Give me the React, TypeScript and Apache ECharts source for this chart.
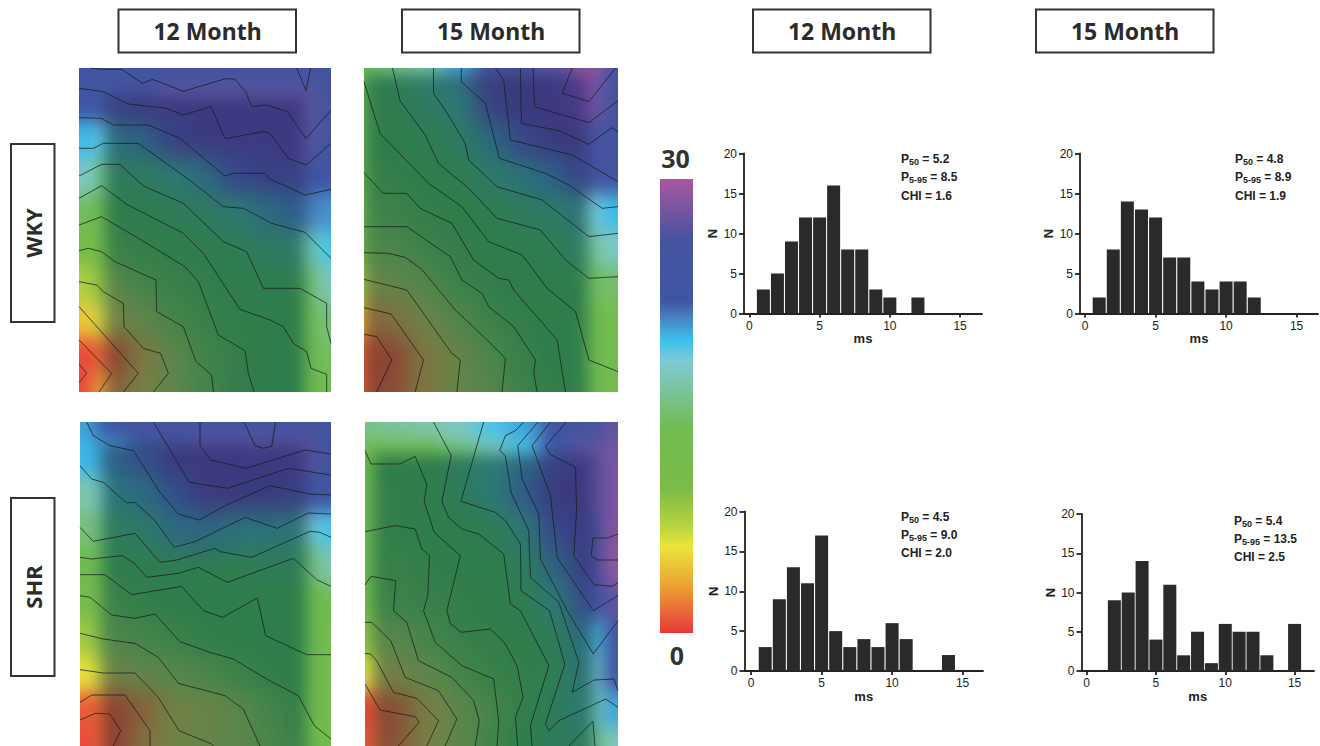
import React, { useEffect, useRef } from "react";
import * as echarts from "echarts";

// ---------- colour scale (value, colour) ----------
const scaleStops: [number, string][] = [
  [0, "#e8383a"], [3, "#ec9f33"], [5.7, "#ebe53c"], [7.2, "#b5d140"], [9.6, "#7bbb48"],
  [13.5, "#70bb50"], [16.2, "#7cc4a0"], [18, "#7ccad5"], [19.35, "#3bc0ee"], [21, "#4a7cbc"],
  [21.9, "#3f56a4"], [26, "#45549f"], [30, "#a9569f"],
];
// the same values as they look in the darker centre of each map
const innerStops: [number, string][] = [
  [0, "#95302f"], [2, "#8a4032"], [4, "#87603a"], [6, "#7a8045"], [9, "#5c864a"], [11, "#45844a"],
  [13.5, "#2f7d4a"], [15.5, "#2f7a60"], [17, "#2d7a75"], [19, "#2b6a80"], [21, "#2f5a8c"],
  [23, "#37468a"], [25, "#3a3a7c"], [27, "#3e3a82"], [30, "#6f3a98"],
];

// ---------- maps: values read on a 9 x 10 lattice ----------
const heat12Wky = [
  [23, 25, 25, 25, 25, 25, 25, 25.5, 25.5],
  [22, 24, 26, 27, 27, 27, 27, 27, 25],
  [19.5, 18.5, 20, 24, 26, 27, 27, 27, 24.5],
  [17.5, 15.5, 15, 17, 19, 23, 24, 24, 23],
  [14, 13.5, 14, 14.5, 15.5, 17, 19, 21, 20.5],
  [11, 12, 13, 13.5, 14, 14.5, 15.5, 16.5, 19],
  [7.5, 9, 11, 12.5, 13, 13.5, 14, 14, 17],
  [4.5, 6.5, 8.5, 11, 12.5, 13, 13.5, 13.5, 15],
  [0.5, 1.5, 5.5, 9, 11.5, 13, 13.5, 13.5, 14],
  [0.5, 4, 6, 9, 11, 13, 13.5, 13.5, 13.5],
];
const heat15Wky = [
  [13.5, 15.5, 16.5, 20, 25, 26, 27, 29, 26],
  [13, 14, 15.5, 17, 24, 25, 26, 28, 26],
  [13, 13.5, 14, 15.5, 19, 23, 25, 26, 25],
  [12.5, 13, 13.5, 14, 16, 18, 20.5, 24, 25],
  [11.5, 12, 13, 13.5, 14, 15, 16, 18, 19.5],
  [10, 10.5, 12, 13, 13.5, 14, 14.5, 16, 17.5],
  [7.5, 8.5, 10, 12, 13, 13.5, 13.5, 14, 14.5],
  [4, 5, 7.5, 10, 12, 13, 13.5, 13.5, 12],
  [1.5, 2.5, 5.5, 8, 10.5, 12.5, 13.5, 13.5, 12.5],
  [1.5, 3, 5.5, 8, 9.5, 12, 13, 13.5, 12],
];
const heat12Shr = [
  [20, 22, 25, 25, 25, 25, 25, 25, 25],
  [19.5, 20, 22, 25, 27, 27, 27, 27, 25],
  [16.5, 17.5, 19, 22, 26, 25, 25, 24, 22],
  [15, 15, 16, 19, 19.5, 18, 18, 17.5, 19],
  [13, 13.5, 14, 14.5, 14, 14, 15, 14.5, 16.5],
  [11, 12, 13, 13.5, 13.5, 13.5, 13.5, 13.5, 13.5],
  [8, 10, 11, 12, 13, 13.5, 13.5, 13.5, 13],
  [5.5, 7, 8.5, 9.5, 10.5, 12, 13, 13.5, 12.5],
  [1, 1.5, 4, 7, 7.5, 9, 11, 13, 12],
  [0.5, 1.5, 5, 7, 8, 9, 10.5, 12.5, 12],
];
const heat15Shr = [
  [15.5, 16, 16.5, 17.5, 19, 20, 23, 26, 27],
  [13, 13.5, 13.5, 15, 17, 19, 24, 27, 28],
  [13, 13, 13.5, 15, 17, 21, 25, 27, 28],
  [13, 13, 13.5, 13.5, 14.5, 17, 23, 26, 28.5],
  [13, 12.5, 13, 13.5, 13.5, 15, 20, 26, 29],
  [12, 12, 12.5, 13, 13.5, 14, 17, 23, 27],
  [9, 9.5, 11, 12.5, 13, 13.5, 15, 19, 24.5],
  [6, 7, 9, 11, 12.5, 13, 14, 18, 22],
  [0.5, 3, 6, 9, 11, 13, 15, 17, 20],
  [1, 3.5, 6.5, 9, 11.5, 13.5, 15, 15.5, 17],
];

// ---------- isochrone lines, in map units ----------
const contours12Wky = [
  [[60,24],[95,28],[155,28],[218,70],[248,58],[340,94],[467,56],[495,58],[527,95],[545,140],[590,135],[652,155],[708,236],[783,150]],
  [[27,85],[100,95],[175,132],[290,145],[340,165],[423,140],[465,236],[580,215],[600,220],[655,295],[708,315],[783,250]],
  [[680,24],[708,92],[722,24]],
  [[27,173],[95,175],[130,195],[235,195],[330,235],[465,348],[490,340],[585,340],[600,358],[640,375],[705,405],[783,388]],
  [[27,265],[70,265],[100,250],[205,250],[365,365],[460,440],[520,445],[605,490],[705,517],[783,595]],
  [[27,348],[95,313],[150,313],[220,378],[340,430],[460,545],[530,575],[580,685],[690,685],[770,730],[770,800],[783,850]],
  [[27,415],[95,377],[170,433],[340,520],[400,580],[510,748],[600,780],[640,800],[670,850],[710,875],[723,925],[770,943],[770,996]],
  [[27,495],[95,470],[205,535],[345,620],[385,665],[445,825],[525,872],[535,940],[552,996]],
  [[27,572],[55,565],[95,575],[135,605],[258,660],[260,755],[340,800],[378,905],[425,945],[430,996]],
  [[27,665],[80,675],[100,695],[160,730],[162,800],[220,865],[272,880],[295,940],[250,996]],
  [[27,740],[205,940],[160,996]],
  [[27,840],[125,940],[87,996]],
  [[27,912],[50,940],[27,968]],
];
const contours15Wky = [
  [[27,65],[75,220],[220,370],[320,440],[400,545],[500,585],[575,685],[660,755],[700,900],[787,935]],
  [[112,24],[135,122],[210,225],[250,310],[340,385],[425,475],[555,510],[630,600],[700,655],[787,650]],
  [[235,24],[235,100],[270,150],[330,250],[340,300],[425,380],[560,420],[700,530],[787,520]],
  [[318,24],[318,65],[390,130],[432,295],[570,340],[640,375],[740,445],[787,440]],
  [[420,24],[445,60],[465,240],[650,285],[787,365]],
  [[495,24],[498,190],[610,212],[700,253],[768,203],[787,215]],
  [[533,24],[537,140],[700,188],[787,122]],
  [[650,24],[620,100],[700,125],[780,24]],
  [[27,338],[85,400],[155,400],[195,445],[290,490],[355,600],[430,655],[460,660],[475,690],[605,840],[620,935],[630,996]],
  [[27,500],[155,500],[285,590],[320,660],[380,700],[400,740],[475,800],[540,900],[535,940],[545,996]],
  [[27,578],[100,580],[150,592],[200,628],[300,750],[385,830],[450,895],[440,996]],
  [[27,658],[155,690],[290,880],[315,900],[305,996]],
  [[27,743],[108,762],[205,900],[180,996]],
  [[27,823],[65,830],[110,900],[65,996]],
];
const contours12Shr = [
  [[50,24],[70,65],[120,95],[190,110],[270,235],[325,300],[388,318],[465,275],[600,215],[720,240],[783,243]],
  [[30,155],[65,195],[100,205],[170,267],[195,265],[255,320],[312,400],[375,383],[525,310],[622,343],[715,297],[783,300]],
  [[250,24],[358,205],[473,223],[655,163],[783,183]],
  [[390,24],[390,95],[422,138],[528,163],[705,108],[783,120]],
  [[522,24],[555,95],[580,103],[605,97],[617,24]],
  [[30,340],[70,382],[195,358],[270,445],[320,438],[435,403],[450,413],[545,430],[720,352],[750,355],[783,370]],
  [[30,430],[65,435],[157,425],[195,450],[230,490],[325,478],[385,460],[472,505],[670,433],[740,497],[783,517]],
  [[30,482],[105,482],[185,542],[335,517],[400,590],[458,610],[562,552],[587,665],[710,722],[783,722]],
  [[30,545],[60,550],[125,603],[195,613],[255,600],[330,683],[420,715],[490,735],[590,795],[685,845],[733,935],[783,975]],
  [[30,658],[100,675],[195,688],[265,730],[325,808],[465,845],[520,885],[565,985],[570,996]],
  [[30,767],[100,777],[195,777],[265,850],[327,950],[425,990],[430,996]],
  [[30,865],[65,843],[165,843],[240,950],[240,996]],
  [[30,918],[75,898],[120,900],[152,950],[130,996]],
];
const contours15Shr = [
  [[235,24],[288,125],[260,262],[280,310],[320,345],[370,360],[445,420],[465,570],[495,590],[580,755],[525,935],[530,996]],
  [[385,24],[317,262],[420,295],[450,320],[495,390],[497,530],[582,590],[628,750],[570,930],[580,950],[610,920],[750,855],[787,880]],
  [[505,24],[480,50],[450,65],[433,110],[450,125],[467,235],[520,350],[525,490],[610,565],[670,745],[650,835],[715,798],[775,795],[787,830]],
  [[548,24],[487,95],[500,195],[550,300],[555,435],[635,590],[713,720],[787,620]],
  [[585,24],[530,95],[585,245],[605,430],[713,590],[787,545]],
  [[632,24],[570,97],[585,122],[660,160],[663,290],[655,425],[715,512],[770,517],[787,505]],
  [[787,360],[755,372],[712,372],[707,425],[725,438],[787,438]],
  [[30,110],[48,150],[135,150],[180,127],[215,212],[207,262],[237,355],[315,425],[275,590],[285,628],[318,655],[405,645],[447,685],[485,755],[503,850],[480,910],[487,996]],
  [[30,353],[120,335],[180,345],[200,405],[223,425],[218,545],[205,590],[240,685],[320,755],[415,795],[430,920],[425,996]],
  [[30,513],[48,487],[122,500],[115,590],[155,625],[190,740],[290,790],[355,860],[372,920],[360,996]],
  [[30,625],[50,625],[107,680],[150,790],[250,830],[305,915],[270,996]],
  [[30,718],[47,720],[65,740],[115,835],[185,853],[250,920],[215,996]],
  [[30,810],[75,888],[180,908],[192,925],[130,996]],
  [[640,996],[712,922],[718,996]],
];

// ---------- histograms: count per 1 ms bin, bins 1..16 ----------
const binsMs = [1, 2, 3, 4, 5, 6, 7, 8, 9, 10, 11, 12, 13, 14, 15, 16];
const hist12Wky = [3, 5, 9, 12, 12, 16, 8, 8, 3, 2, 0, 2, 0, 0, 0, 0];
const hist15Wky = [2, 8, 14, 13, 12, 7, 7, 4, 3, 4, 4, 2, 0, 0, 0, 0];
const hist12Shr = [3, 9, 13, 11, 17, 5, 3, 4, 3, 6, 4, 0, 0, 2, 0, 0];
const hist15Shr = [0, 9, 10, 14, 4, 11, 2, 5, 1, 6, 5, 5, 2, 0, 6, 0];
const xTicks = [0, 5, 10, 15];
const stats12Wky = ["5.2", "8.5", "1.6"];
const stats15Wky = ["4.8", "8.9", "1.9"];
const stats12Shr = ["4.5", "9.0", "2.0"];
const stats15Shr = ["5.4", "13.5", "2.5"];
const columnTitles = ["12 Month", "15 Month"];
const rowTitles = ["WKY", "SHR"];

const hexToRgb = (h: string) => [1, 3, 5].map((i) => parseInt(h.slice(i, i + 2), 16));
function colourTable(stops: [number, string][]) {
  const out: string[] = [];
  for (let v = 0; v <= 30; v += 0.5) {
    let k = 0;
    while (k < stops.length - 2 && stops[k + 1][0] < v) k++;
    const [a, ca] = stops[k];
    const [b, cb] = stops[k + 1];
    const t = Math.min(1, Math.max(0, (v - a) / (b - a)));
    const A = hexToRgb(ca);
    const B = hexToRgb(cb);
    out.push(`rgb(${A.map((x, i) => Math.round(x + (B[i] - x) * t)).join(",")})`);
  }
  return out;
}

// inset: [top, right, left] of the darker centre of each map
const maps = [
  { x: 79, y: 68, w: 252, h: 324, heat: heat12Wky, lines: contours12Wky, ex: [27, 783], inset: [28, 26, 26] },
  { x: 364, y: 68, w: 254, h: 324, heat: heat15Wky, lines: contours15Wky, ex: [27, 787], inset: [6, 30, 0] },
  { x: 80, y: 422, w: 251, h: 324, heat: heat12Shr, lines: contours12Shr, ex: [30, 783], inset: [22, 24, 22] },
  { x: 365, y: 422, w: 253, h: 324, heat: heat15Shr, lines: contours15Shr, ex: [30, 787], inset: [32, 24, 8] },
];
const hists = [
  { x: 744, y: 153.5, w: 238, h: 160, min: -0.38, max: 16.56, vals: hist12Wky, stats: stats12Wky, tx: 901, ty: [159, 177, 196] },
  { x: 1080, y: 153.5, w: 238, h: 160, min: -0.36, max: 16.52, vals: hist15Wky, stats: stats15Wky, tx: 1235, ty: [159, 177, 196] },
  { x: 744.5, y: 511.5, w: 238.5, h: 159.5, min: -0.47, max: 16.45, vals: hist12Shr, stats: stats12Shr, tx: 901, ty: [516.5, 535, 553] },
  { x: 1081.5, y: 514, w: 232.5, h: 157, min: -0.37, max: 16.4, vals: hist15Shr, stats: stats15Shr, tx: 1234, ty: [520.5, 538.5, 557] },
];
const headerBoxes = [
  { x: 118.5, t: columnTitles[0] }, { x: 402, t: columnTitles[1] },
  { x: 753, t: columnTitles[0] }, { x: 1036, t: columnTitles[1] },
];
const rowBoxes = [{ y: 144, t: rowTitles[0] }, { y: 498, t: rowTitles[1] }];

const HEAD_FONT = "'Noto Sans', sans-serif";
const HIST_FONT = "'Liberation Sans', Arial, sans-serif";

function heatOption(m: (typeof maps)[number], table: string[]) {
  const rows = m.heat.length, cols = m.heat[0].length;
  const data: number[][] = [];
  // one extra ring of edge values, so the soft edge stays inside the clipped panel
  for (let r = -1; r <= rows; r++)
    for (let c = -1; c <= cols; c++) {
      const rr = Math.min(rows - 1, Math.max(0, r));
      const cc = Math.min(cols - 1, Math.max(0, c));
      data.push([c + 1, r + 1, m.heat[rr][cc]]);
    }
  const cat = (n: number) => Array.from({ length: n + 2 }, (_, i) => i);
  return {
    animation: false,
    grid: { left: 0, right: 0, top: 0, bottom: 0 },
    xAxis: { type: "category", data: cat(cols), show: false },
    yAxis: { type: "category", data: cat(rows), show: false, inverse: true },
    visualMap: { show: false, min: 0, max: 30, dimension: 2, inRange: { color: table } },
    series: [{ type: "heatmap", data, silent: true, itemStyle: { borderWidth: 0 } }],
  };
}

function mainOption() {
  const grid: any[] = [], xAxis: any[] = [], yAxis: any[] = [], series: any[] = [], graphic: any[] = [];
  maps.forEach((m, i) => {
    grid.push({ left: m.x, top: m.y, width: m.w, height: m.h });
    xAxis.push({ type: "value", gridIndex: i, min: m.ex[0], max: m.ex[1], show: false });
    yAxis.push({ type: "value", gridIndex: i, min: 24, max: 996, inverse: true, show: false });
    m.lines.forEach((pts) =>
      series.push({
        type: "line", xAxisIndex: i, yAxisIndex: i, data: pts, symbol: "none", silent: true,
        lineStyle: { color: "rgba(22,30,30,0.75)", width: 1 },
      }),
    );
  });
  hists.forEach((h, j) => {
    const i = j + maps.length;
    grid.push({ left: h.x, top: h.y, width: h.w, height: h.h });
    xAxis.push({
      type: "value", gridIndex: i, min: h.min, max: h.max,
      name: "ms", nameLocation: "middle", nameGap: 16,
      nameTextStyle: { fontFamily: HIST_FONT, fontWeight: "bold", fontSize: 13, color: "#222" },
      splitLine: { show: false },
      axisLine: { onZero: false, lineStyle: { color: "#222", width: 1.8 } },
      axisTick: { customValues: xTicks, length: 4, lineStyle: { color: "#222", width: 1.8 } },
      axisLabel: { customValues: xTicks, margin: 6, fontFamily: HIST_FONT, fontSize: 12, color: "#222" },
    });
    yAxis.push({
      type: "value", gridIndex: i, min: 0, max: 20, interval: 5,
      name: "N", nameLocation: "middle", nameGap: 25, nameRotate: 90,
      nameTextStyle: { fontFamily: HIST_FONT, fontWeight: "bold", fontSize: 13, color: "#222" },
      splitLine: { show: false },
      axisLine: { show: true, onZero: false, lineStyle: { color: "#222", width: 1.8 } },
      axisTick: { show: true, length: 5, lineStyle: { color: "#222", width: 1.8 } },
      axisLabel: { margin: 7, fontFamily: HIST_FONT, fontSize: 12, color: "#222" },
    });
    series.push({
      type: "bar", xAxisIndex: i, yAxisIndex: i, barWidth: 13, silent: true,
      data: binsMs.map((b, k) => [b, h.vals[k]]),
      itemStyle: { color: "#2a2a2a" },
    });
    const statRich = {
      p: { fontFamily: HIST_FONT, fontWeight: "bold", fontSize: 12, fill: "#222" },
      s: { fontFamily: HIST_FONT, fontWeight: "bold", fontSize: 9, fill: "#222", padding: [6, 0, 0, 0] },
    };
    const lines = [`{p|P}{s|50}{p| = ${h.stats[0]}}`, `{p|P}{s|5-95}{p| = ${h.stats[1]}}`, `{p|CHI = ${h.stats[2]}}`];
    lines.forEach((text, k) =>
      graphic.push({
        type: "text", x: h.tx, y: h.ty[k],
        style: { text, rich: statRich, align: "left", verticalAlign: "middle", fill: "#222" },
      }),
    );
  });
  headerBoxes.forEach((b) => {
    graphic.push({ type: "rect", shape: { x: b.x, y: 9.5, width: 177.5, height: 43 }, style: { fill: "#fff", stroke: "#333", lineWidth: 2 } });
    graphic.push({
      type: "text", x: b.x + 89, y: 31, z: 10,
      style: { text: b.t, font: `bold 23px ${HEAD_FONT}`, fill: "#2b2b2b", align: "center", verticalAlign: "middle" },
    });
  });
  rowBoxes.forEach((b) => {
    graphic.push({ type: "rect", shape: { x: 11, y: b.y, width: 43.5, height: 178 }, style: { fill: "#fff", stroke: "#333", lineWidth: 2 } });
    graphic.push({
      type: "text", x: 33, y: b.y + 89, rotation: Math.PI / 2, z: 10,
      style: { text: b.t, font: `bold 22px ${HEAD_FONT}`, fill: "#2b2b2b", align: "center", verticalAlign: "middle" },
    });
  });
  graphic.push({
    type: "rect", shape: { x: 660, y: 179, width: 33, height: 454 },
    style: {
      fill: new echarts.graphic.LinearGradient(0, 1, 0, 0,
        scaleStops.map(([v, color]) => ({ offset: v / 30, color }))),
    },
  });
  graphic.push({ type: "text", x: 675.5, y: 158, style: { text: "30", font: `bold 25px ${HEAD_FONT}`, fill: "#333", align: "center", verticalAlign: "middle" } });
  graphic.push({ type: "text", x: 677, y: 655, style: { text: "0", font: `bold 25px ${HEAD_FONT}`, fill: "#333", align: "center", verticalAlign: "middle" } });
  return { animation: false, grid, xAxis, yAxis, series, graphic };
}

export default function App() {
  const mainRef = useRef<HTMLDivElement>(null);
  const edgeRefs = useRef<(HTMLDivElement | null)[]>([]);
  const innerRefs = useRef<(HTMLDivElement | null)[]>([]);
  useEffect(() => {
    const edgeTable = colourTable(scaleStops);
    const innerTable = colourTable(innerStops);
    const charts: echarts.ECharts[] = [];
    maps.forEach((m, i) => {
      const a = echarts.init(edgeRefs.current[i]!, undefined, { renderer: "svg" });
      a.setOption(heatOption(m, edgeTable) as any);
      const b = echarts.init(innerRefs.current[i]!, undefined, { renderer: "svg" });
      b.setOption(heatOption(m, innerTable) as any);
      charts.push(a, b);
    });
    const main = echarts.init(mainRef.current!, undefined, { renderer: "svg" });
    main.setOption(mainOption() as any);
    return () => {
      charts.forEach((c) => c.dispose());
      main.dispose();
    };
  }, []);
  return (
    <div style={{ position: "absolute", left: 0, top: 0, width: 1320, height: 746, overflow: "hidden", background: "#fff" }}>
      {maps.map((m, i) => {
        const cols = m.heat[0].length, rows = m.heat.length;
        const cx = m.w / (cols - 1), cy = m.h / (rows - 1);
        const [iTop, iRight, iLeft] = m.inset;
        const full = { width: m.w + 3 * cx, height: m.h + 3 * cy, filter: "blur(9px)" };
        return (
          <div key={i} style={{ position: "absolute", left: m.x, top: m.y, width: m.w, height: m.h, overflow: "hidden" }}>
            <div
              ref={(el) => { edgeRefs.current[i] = el; }}
              style={{ position: "absolute", left: -1.5 * cx, top: -1.5 * cy, ...full }}
            />
            <div style={{ position: "absolute", left: iLeft, right: iRight, top: iTop, bottom: -30, filter: "blur(8px)" }}>
              <div style={{ position: "absolute", left: 0, right: 0, top: 0, bottom: 0, overflow: "hidden" }}>
                <div
                  ref={(el) => { innerRefs.current[i] = el; }}
                  style={{ position: "absolute", left: -1.5 * cx - iLeft, top: -1.5 * cy - iTop, ...full }}
                />
              </div>
            </div>
          </div>
        );
      })}
      <div ref={mainRef} style={{ position: "absolute", left: 0, top: 0, width: 1320, height: 746 }} />
    </div>
  );
}
